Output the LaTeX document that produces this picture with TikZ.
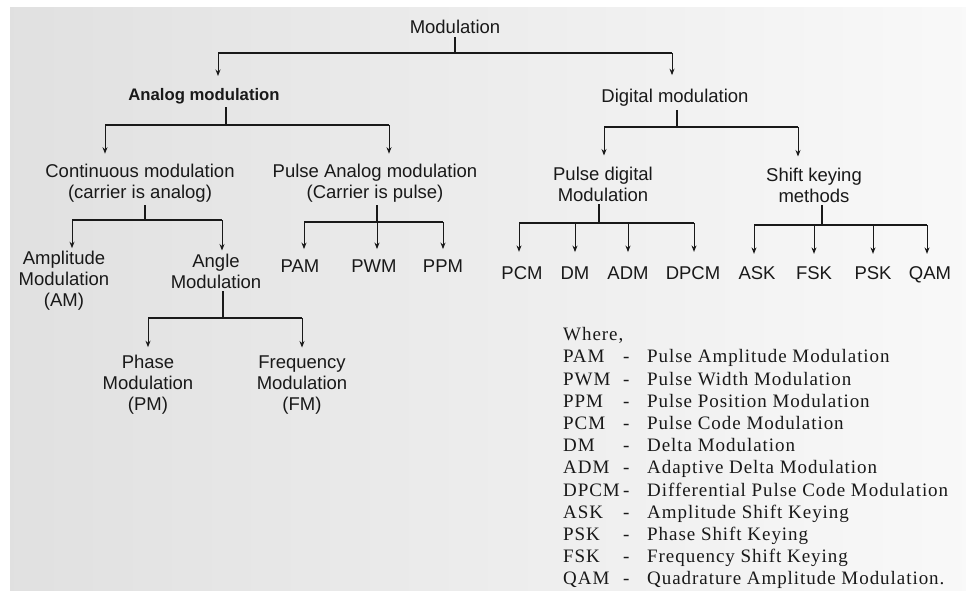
\documentclass[tikz,border=0pt]{standalone}
\usepackage{fontspec}
\setmainfont{Liberation Sans}
\newfontfamily\keyfont[LetterSpace=5]{Liberation Serif}
\usepackage{tikz}
\usetikzlibrary{arrows.meta}
\tikzstyle{branch} = [line width=1.6pt, black!90, shorten <=3pt]
\tikzstyle{drop} = [-{Stealth[length=6.5pt,width=5pt]}, line width=1pt, black!90]
\tikzstyle{lbl} = [align=center, inner sep=0pt, text=black!90,
   font=\fontsize{18.5}{21}\selectfont]
\tikzstyle{leaf} = [lbl, anchor=base]

\begin{document}
\begin{tikzpicture}[x=1pt,y=-1pt]
  % paper
  \fill [white] (0,0) rectangle (966,591);
  \shade [left color=gray!24, right color=gray!5] (10,8) rectangle (966,591);
  \useasboundingbox (0,0) rectangle (966,591);

  \node [lbl] (mod) at (455,27) {Modulation};
  \node [lbl, font=\fontsize{16.7}{21}\selectfont\bfseries] (ana) at (204,96) {Analog modulation};
  \node [lbl] (dig) at (675,98) {Digital modulation};

  \node [lbl] (cont) at (140,183) {Continuous modulation\\(carrier is analog)};
  \node [lbl] (pan) at (375,183) {Pulse Analog modulation\\(Carrier is pulse)};
  \node [lbl] (pdm) at (603,184) {Pulse digital\\Modulation};
  \node [lbl] (skm) at (814,185) {Shift keying\\methods};

  \node [lbl] (am) at (64,281) {Amplitude\\Modulation\\(AM)};
  \node [lbl] (ang) at (216,271) {Angle\\Modulation};
  \node [leaf] (pam) at (300,272) {PAM};
  \node [leaf] (pwm) at (374,272) {PWM};
  \node [leaf] (ppm) at (443,272) {PPM};

  \node [leaf] (pcm) at (522,279) {PCM};
  \node [leaf] (dm) at (575,279) {DM};
  \node [leaf] (adm) at (628,279) {ADM};
  \node [leaf] (dpcm) at (693,279) {DPCM};
  \node [leaf] (ask) at (757,279) {ASK};
  \node [leaf] (fsk) at (814,279) {FSK};
  \node [leaf] (psk) at (873,279) {PSK};
  \node [leaf] (qam) at (930,279) {QAM};

  \node [lbl] (pm) at (148,385) {Phase\\Modulation\\(PM)};
  \node [lbl] (fm) at (302,385) {Frequency\\Modulation\\(FM)};

  % Modulation
  \coordinate (t0) at (455,53);
  \coordinate (t1) at (218,53);
  \coordinate (t2) at (672,53);
  \draw [branch] (t0 |- mod.south) -- (t0);
  \draw [branch, shorten <=0pt] (t1) -- (t2);
  \draw [drop, shorten >=12pt] (t1) -- (t1 |- ana.north);
  \draw [drop, shorten >=14pt] (t2) -- (t2 |- dig.north);

  % Analog modulation
  \coordinate (a0) at (226,125);
  \coordinate (a1) at (105,125);
  \coordinate (a2) at (389,125);
  \draw [branch] (a0 |- ana.south) -- (a0);
  \draw [branch, shorten <=0pt] (a1) -- (a2);
  \draw [drop, shorten >=10pt] (a1) -- (a1 |- cont.north);
  \draw [drop, shorten >=10pt] (a2) -- (a2 |- pan.north);

  % Digital modulation
  \coordinate (d0) at (677,127);
  \coordinate (d1) at (604,127);
  \coordinate (d2) at (798,127);
  \draw [branch] (d0 |- dig.south) -- (d0);
  \draw [branch, shorten <=0pt] (d1) -- (d2);
  \draw [drop, shorten >=11pt] (d1) -- (d1 |- pdm.north);
  \draw [drop, shorten >=11pt] (d2) -- (d2 |- skm.north);

  % Continuous modulation
  \coordinate (c0) at (145,220);
  \coordinate (c1) at (72,220);
  \coordinate (c2) at (222,220);
  \draw [branch] (c0 |- cont.south) -- (c0);
  \draw [branch, shorten <=0pt] (c1) -- (c2);
  \draw [drop, shorten >=3pt] (c1) -- (c1 |- am.north);
  \draw [drop, shorten >=3pt] (c2) -- (c2 |- ang.north);

  % Pulse analog modulation
  \coordinate (p0) at (377,222);
  \coordinate (p1) at (304,222);
  \coordinate (p2) at (443,222);
  \draw [branch] (p0 |- pan.south) -- (p0);
  \draw [branch, shorten <=0pt] (p1) -- (p2);
  \draw [drop, shorten >=10pt] (p1) -- (p1 |- pam.north);
  \draw [drop, shorten >=10pt] (p0) -- (p0 |- pwm.north);
  \draw [drop, shorten >=10pt] (p2) -- (p2 |- ppm.north);

  % Angle modulation
  \coordinate (g0) at (223,318);
  \coordinate (g1) at (148,318);
  \coordinate (g2) at (302,318);
  \draw [branch] (g0 |- ang.south) -- (g0);
  \draw [branch, shorten <=0pt] (g1) -- (g2);
  \draw [drop, shorten >=8pt] (g1) -- (g1 |- pm.north);
  \draw [drop, shorten >=8pt] (g2) -- (g2 |- fm.north);

  % Pulse digital modulation
  \coordinate (q0) at (599,223);
  \coordinate (q1) at (519,223);
  \coordinate (q2) at (694,223);
  \draw [branch] (q0 |- pdm.south) -- (q0);
  \draw [branch, shorten <=0pt] (q1) -- (q2);
  \draw [drop, shorten >=14pt] (q1) -- (q1 |- pcm.north);
  \draw [drop, shorten >=14pt] (q1 -| dm) -- (dm.north);
  \draw [drop, shorten >=14pt] (q1 -| adm) -- (adm.north);
  \draw [drop, shorten >=14pt] (q2) -- (q2 |- dpcm.north);

  % Shift keying methods
  \coordinate (s0) at (822,225);
  \coordinate (s1) at (754,225);
  \coordinate (s2) at (927,225);
  \draw [branch] (s0 |- skm.south) -- (s0);
  \draw [branch, shorten <=0pt] (s1) -- (s2);
  \draw [drop, shorten >=12pt] (s1) -- (s1 |- ask.north);
  \draw [drop, shorten >=12pt] (s1 -| fsk) -- (fsk.north);
  \draw [drop, shorten >=12pt] (s1 -| psk) -- (psk.north);
  \draw [drop, shorten >=12pt] (s2) -- (s2 |- qam.north);

  % abbreviations
  \node [anchor=north west, inner sep=0pt, text=black!90,
     font=\keyfont\fontsize{19}{22.2}\selectfont] (key) at (563,325) {%
    \begin{tabular}{@{}p{60pt}@{}p{24pt}@{}l@{}}
      \multicolumn{3}{@{}l@{}}{Where,}\\
      PAM & - & Pulse Amplitude Modulation\\
      PWM & - & Pulse Width Modulation\\
      PPM & - & Pulse Position Modulation\\
      PCM & - & Pulse Code Modulation\\
      DM & - & Delta Modulation\\
      ADM & - & Adaptive Delta Modulation\\
      DPCM & - & Differential Pulse Code Modulation\\
      ASK & - & Amplitude Shift Keying\\
      PSK & - & Phase Shift Keying\\
      FSK & - & Frequency Shift Keying\\
      QAM & - & Quadrature Amplitude Modulation.
    \end{tabular}};
\end{tikzpicture}
\end{document}
